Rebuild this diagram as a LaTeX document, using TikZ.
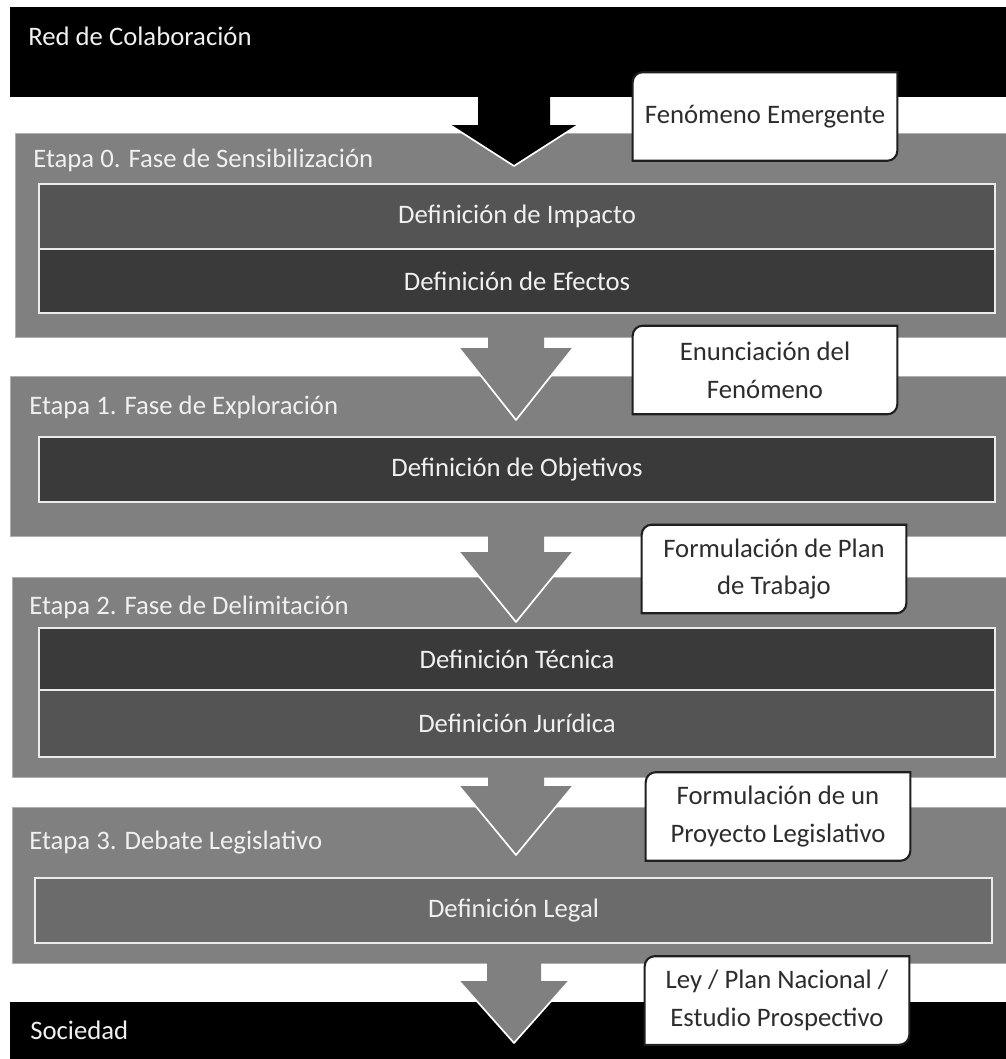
\documentclass[tikz,border=0pt]{standalone}
\usepackage{fontspec}
\setmainfont{Carlito}
\usepackage{tikz}
\definecolor{EtapaGris}{RGB}{128,128,128}
\definecolor{BordeBanda}{RGB}{175,175,175}
\definecolor{CajaMedia}{RGB}{84,84,84}
\definecolor{CajaOscura}{RGB}{58,58,58}
\definecolor{CajaClara}{RGB}{107,107,107}
\definecolor{TextoClaro}{RGB}{240,240,240}
\definecolor{TextoOscuro}{RGB}{45,45,45}
\pgfdeclarelayer{front}
\pgfsetlayers{main,front}

\begin{document}
\begin{tikzpicture}[x=0.025cm, y=-0.025cm,
    every node/.style={font=\fontsize{19}{27}\selectfont},
    band/.style={fill=EtapaGris, draw=BordeBanda, line width=0.6pt},
    bandlabel/.style={anchor=west, inner sep=0pt, text=TextoClaro},
    inbox/.style={draw=white!92!black, line width=1.4pt, text=TextoClaro},
    callout/.style={fill=white, draw=black!88, line width=1.5pt},
    callouttext/.style={minimum width=6.6cm, minimum height=2.2cm, inner sep=0pt, align=center, text=TextoOscuro}]
    \useasboundingbox (0,0) rectangle (1006,1059);
    \fill[white] (0,0) rectangle (1006,1059);

    % bands
    \fill[black] (10,7) rectangle (1006,97);
    \node[bandlabel] (red) at (28,36) {Red de Colaboración};
    \draw[band] (15,133) rectangle (1006,337);
    \node[bandlabel] (etapa0) at (33,160) {Etapa 0. Fase de Sensibilización};
    \draw[band] (10,376) rectangle (1006,536);
    \node[bandlabel] (etapa1) at (29,407) {Etapa 1. Fase de Exploración};
    \draw[band] (12,577) rectangle (1006,777);
    \node[bandlabel] (etapa2) at (29,607) {Etapa 2. Fase de Delimitación};
    \draw[band] (12,807) rectangle (1006,963);
    \node[bandlabel] (etapa3) at (29,843) {Etapa 3. Debate Legislativo};
    \fill[black] (10,1002) rectangle (1006,1059);
    \node[bandlabel] (sociedad) at (30,1030) {Sociedad};

    % block arrows
    \foreach \cx/\top/\head/\tip/\hw/\sw/\col in {514/96/125/166/64/36/black,
        516/336/348/420/57/28/EtapaGris, 516/535/552/622/57/28/EtapaGris,
        516/776/786/855/57/28/EtapaGris, 514/962/981/1043/55/27/EtapaGris}
    {
        \fill[\col] (\cx-\sw,\top) -- (\cx-\sw,\head) -- (\cx-\hw,\head) -- (\cx,\tip)
            -- (\cx+\hw,\head) -- (\cx+\sw,\head) -- (\cx+\sw,\top) -- cycle;
        \draw[white, line width=1.2pt, line join=round] (\cx-\hw,\head) -- (\cx,\tip) -- (\cx+\hw,\head);
    }

    % inner boxes
    \draw[inbox, fill=CajaMedia]  (39,184) rectangle node (impacto) {Definición de Impacto} (995,249);
    \draw[inbox, fill=CajaOscura] (39,249) rectangle node (efectos) {Definición de Efectos} (995,313);
    \draw[inbox, fill=CajaOscura] (39,437) rectangle node (objetivos) {Definición de Objetivos} (995,502);
    \draw[inbox, fill=CajaOscura] (39,628) rectangle node (tecnica) {Definición Técnica} (995,690);
    \draw[inbox, fill=CajaMedia]  (39,690) rectangle node (juridica) {Definición Jurídica} (995,757);
    \draw[inbox, fill=CajaClara]  (35,878) rectangle node (legal) {Definición Legal} (992,943);

    % callouts
    \begin{pgfonlayer}{front}
        \node[callouttext] (fenomeno) at (765,116.5) {Fenómeno Emergente};
        \node[callouttext] (enunciacion) at (765,370) {Enunciación del\\Fenómeno};
        \node[callouttext] (plan) at (774,569) {Formulación de Plan\\de Trabajo};
        \node[callouttext] (proyecto) at (778,816.5) {Formulación de un\\Proyecto Legislativo};
        \node[callouttext] (ley) at (777,1000.5) {Ley / Plan Nacional /\\Estudio Prospectivo};
    \end{pgfonlayer}
    \foreach \cname in {fenomeno,enunciacion,plan,proyecto,ley}
        \draw[callout] ([xshift=0.25cm]\cname.north west) -- (\cname.north east)
            -- ([yshift=0.25cm]\cname.south east) arc[start angle=0, end angle=-90, radius=0.25cm]
            -- (\cname.south west) -- ([yshift=-0.25cm]\cname.north west)
            arc[start angle=180, end angle=90, radius=0.25cm] -- cycle;
\end{tikzpicture}
\end{document}
